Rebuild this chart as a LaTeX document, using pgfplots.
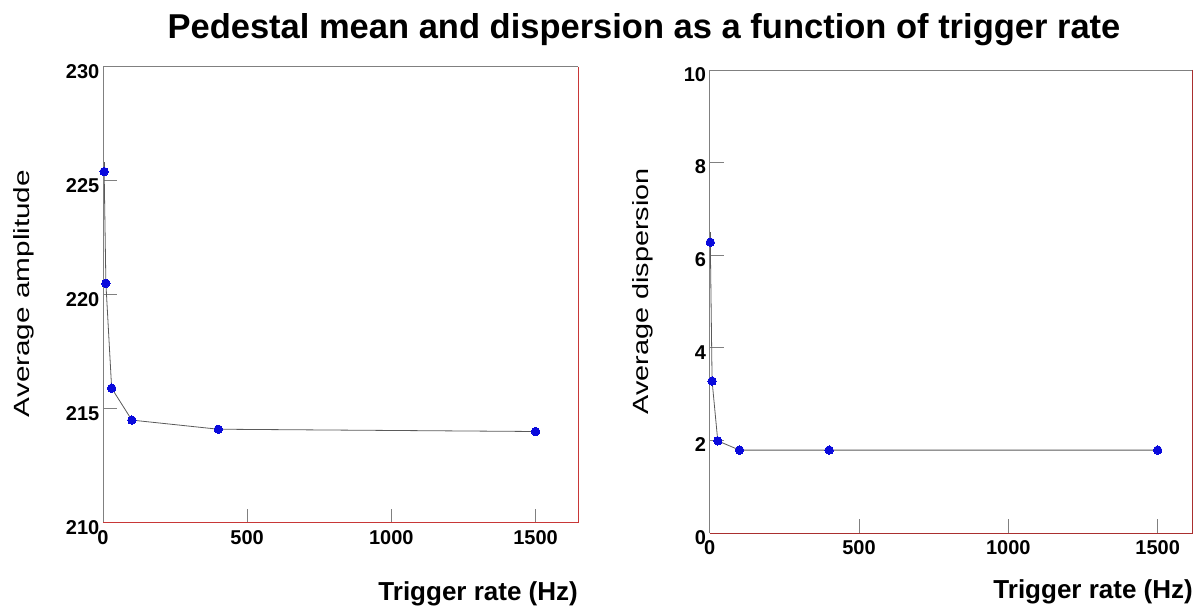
\documentclass[border=0pt]{standalone}
\usepackage{pgfplots}
\pgfplotsset{compat=1.18}
\usepackage{fontspec}
\setmainfont{Liberation Sans}
\definecolor{frameRed}{RGB}{200,55,55}
\definecolor{frameGray}{RGB}{128,128,128}
\definecolor{ptBlue}{RGB}{10,10,220}
\definecolor{lineGray}{RGB}{90,90,90}
\pgfplotsset{
  myax/.style={
    scale only axis,
    anchor=south west,
    axis line style={draw=none},
    tick align=inside,
    xtick pos=bottom, ytick pos=left,
    major tick length=14pt,
    tick style={frameGray, line width=0.8pt},
    /pgf/number format/assume math mode=true,
    /pgf/number format/set thousands separator={},
    ticklabel style={font=\fontsize{20}{24}\selectfont\bfseries},
    yticklabel style={anchor=east, inner sep=0pt, xshift=-3.5pt, yshift=-4.5pt},
    xticklabel style={anchor=north, inner sep=0pt, yshift=-7.5pt},
    xtick={0,500,1000,1500},
    scaled ticks=false,
    clip=false,
  },
  myplot/.style={
    color=lineGray, line width=0.8pt,
    mark=*, mark size=4.2pt,
    mark options={draw=ptBlue, fill=ptBlue, line width=0pt},
    error bars/.cd, y dir=plus, y explicit,
    error bar style={lineGray, line width=0.8pt},
    error mark=none,
  },
}
\begin{document}
\begin{tikzpicture}[x=1pt,y=1pt]
\useasboundingbox (0,0) rectangle (1198,605);
% Title
\node[anchor=base, inner sep=0pt, font=\fontsize{34.5}{40}\selectfont\bfseries] at (644,566)
  {Pedestal mean and dispersion as a function of trigger rate};

% Left panel
\begin{axis}[myax,
  at={(103pt,82.3pt)}, width=475.2pt, height=456pt,
  xmin=0, xmax=1648, ymin=210, ymax=230,
  ytick={210,215,220,225,230},
]
\addplot[myplot] coordinates {
  (4,225.4) +- (0,0.4)
  (10,220.5) +- (0,0)
  (30,215.9) +- (0,0)
  (100,214.5) +- (0,0)
  (400,214.1) +- (0,0)
  (1500,214.0) +- (0,0)
};
\draw[frameGray, line width=0.8pt] (rel axis cs:0,0) -- (rel axis cs:0,1) -- (rel axis cs:1,1);
\draw[frameRed, line width=1pt] (rel axis cs:1,1) -- (rel axis cs:1,0) -- (rel axis cs:0,0);
\end{axis}

% Right panel
\begin{axis}[myax,
  at={(709.7pt,72pt)}, width=482.3pt, height=463pt,
  xmin=0, xmax=1615, ymin=0, ymax=10,
  ytick={0,2,4,6,8,10},
]
\addplot[myplot] coordinates {
  (2,6.28) +- (0,0.23)
  (8,3.28) +- (0,0)
  (27,1.99) +- (0,0)
  (100,1.79) +- (0,0)
  (400,1.79) +- (0,0)
  (1500,1.79) +- (0,0)
};
\draw[frameGray, line width=0.8pt] (rel axis cs:0,0) -- (rel axis cs:0,1) -- (rel axis cs:1,1);
\draw[frameRed!85!black, line width=1pt] (rel axis cs:1,1) -- (rel axis cs:1,0) -- (rel axis cs:0,0);
\end{axis}

% Axis labels
\node[anchor=base east, inner sep=0pt, font=\fontsize{26}{30}\selectfont\bfseries] at (578,5) {Trigger rate (Hz)};
\node[anchor=base east, inner sep=0pt, font=\fontsize{26}{30}\selectfont\bfseries] at (1193,7) {Trigger rate (Hz)};
\node[rotate=90, inner sep=0pt, font=\fontsize{22}{26}\selectfont] at (24,311.5) {\scalebox{1.35}[1]{Average amplitude}};
\node[rotate=90, inner sep=0pt, font=\fontsize{22}{26}\selectfont] at (643,313.5) {\scalebox{1.31}[1]{Average dispersion}};
\end{tikzpicture}
\end{document}
